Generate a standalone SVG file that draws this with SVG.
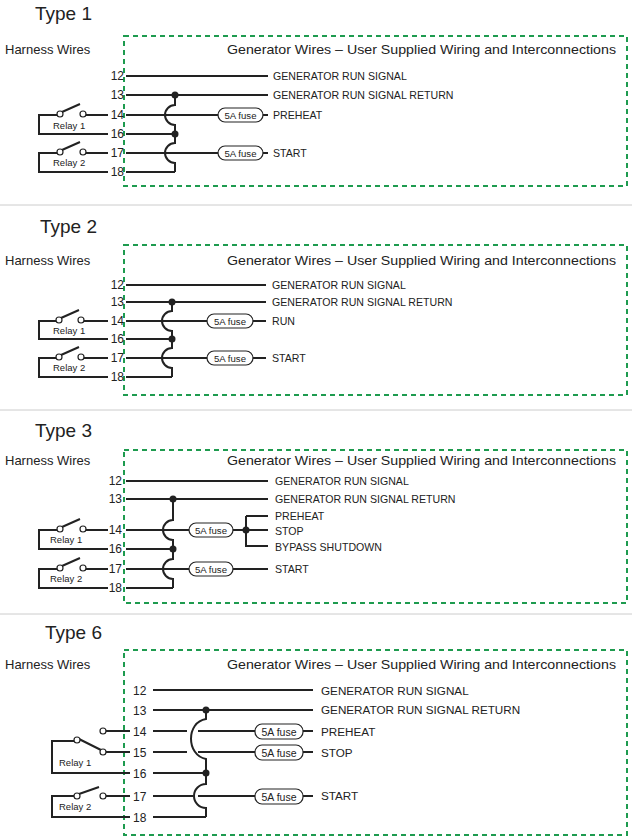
<svg xmlns="http://www.w3.org/2000/svg" width="632" height="840" viewBox="0 0 632 840">
<style>
text{font-family:"Liberation Sans",Arial,sans-serif;fill:#222}
.t{font-size:19px}
.h{font-size:13px}
.n{font-size:12px}
.l{font-size:10.6px}
.f{font-size:9.6px}
.f6{font-size:10.5px}
.r{font-size:9.5px}
.w{stroke:#222;stroke-width:2;fill:none}
.box{stroke:#1e9b4f;stroke-width:2;stroke-dasharray:5,4;fill:none}
.sep{stroke:#ccc;stroke-width:1}
.fuse{fill:#fff;stroke:#222;stroke-width:1.2}
.c{fill:#fff;stroke:#222;stroke-width:1.2}
.d{fill:#222}
</style>
<g id="sections">
<line class="sep" x1="0" y1="205" x2="632" y2="205"/>
<line class="sep" x1="0" y1="410" x2="632" y2="410"/>
<line class="sep" x1="0" y1="614" x2="632" y2="614"/>
</g>
<g id="type1">
<text class="t" x="35" y="20">Type 1</text>
<text class="h" x="5" y="54">Harness Wires</text>
<rect class="box" x="124" y="36" width="503" height="150"/>
<text class="h" x="227" y="54" textLength="389" lengthAdjust="spacingAndGlyphs">Generator Wires – User Supplied Wiring and Interconnections</text>
<g class="n" text-anchor="end"><text x="124" y="80">12</text><text x="124" y="99">13</text><text x="124" y="119">14</text><text x="124" y="138">16</text><text x="124" y="157">17</text><text x="124" y="176">18</text></g>
<g class="w">
<line x1="126" y1="76" x2="268" y2="76"/><line x1="126" y1="95" x2="268" y2="95"/>
<line x1="126" y1="115" x2="219" y2="115"/><line x1="262" y1="115" x2="268" y2="115"/>
<line x1="126" y1="134" x2="175" y2="134"/>
<line x1="126" y1="153" x2="219" y2="153"/><line x1="262" y1="153" x2="268" y2="153"/>
<line x1="126" y1="172" x2="175" y2="172"/>
<path d="M175,95 V105 A10,10 0 0 0 175,125 V143 A10,10 0 0 0 175,163 V172"/>
<path d="M58,115 H39 V134 H108 M86,115 H108 M62,112 L80,104"/>
<path d="M58,153 H39 V172 H108 M86,153 H108 M62,150 L80,142"/>
</g>
<circle class="d" cx="175" cy="95" r="3.5"/><circle class="d" cx="175" cy="134" r="3.5"/>
<circle class="c" cx="60" cy="114" r="3"/><circle class="c" cx="83" cy="114" r="3"/>
<circle class="c" cx="60" cy="152" r="3"/><circle class="c" cx="83" cy="152" r="3"/>
<text class="r" x="53" y="129">Relay 1</text><text class="r" x="53" y="166">Relay 2</text>
<rect class="fuse" x="218" y="108" width="45" height="14" rx="7"/><text class="f" x="240.5" y="118.5" text-anchor="middle">5A fuse</text>
<rect class="fuse" x="218" y="146" width="45" height="14" rx="7"/><text class="f" x="240.5" y="156.5" text-anchor="middle">5A fuse</text>
<g class="l"><text x="273" y="80">GENERATOR RUN SIGNAL</text><text x="273" y="99">GENERATOR RUN SIGNAL RETURN</text><text x="273" y="119">PREHEAT</text><text x="273" y="157">START</text></g>
</g>
<g id="type2">
<text class="t" x="40" y="233">Type 2</text>
<text class="h" x="5" y="265">Harness Wires</text>
<rect class="box" x="124" y="245" width="503" height="150"/>
<text class="h" x="227" y="265" textLength="389" lengthAdjust="spacingAndGlyphs">Generator Wires – User Supplied Wiring and Interconnections</text>
<g class="n" text-anchor="end"><text x="124" y="289">12</text><text x="124" y="306">13</text><text x="124" y="325">14</text><text x="124" y="343">16</text><text x="124" y="362">17</text><text x="124" y="381">18</text></g>
<g class="w">
<line x1="126" y1="285" x2="266" y2="285"/><line x1="126" y1="302" x2="266" y2="302"/>
<line x1="126" y1="321" x2="208" y2="321"/><line x1="252" y1="321" x2="266" y2="321"/>
<line x1="126" y1="339" x2="172" y2="339"/>
<line x1="126" y1="358" x2="208" y2="358"/><line x1="252" y1="358" x2="266" y2="358"/>
<line x1="126" y1="377" x2="172" y2="377"/>
<path d="M172,302 V311 A10,10 0 0 0 172,331 V348 A10,10 0 0 0 172,368 V377"/>
<path d="M57,321 H39 V339 H108 M84,321 H108 M61,318 L79,310"/>
<path d="M57,358 H39 V377 H108 M84,358 H108 M61,355 L79,347"/>
</g>
<circle class="d" cx="172" cy="302" r="3.5"/><circle class="d" cx="172" cy="339" r="3.5"/>
<circle class="c" cx="59" cy="320" r="3"/><circle class="c" cx="81" cy="320" r="3"/>
<circle class="c" cx="59" cy="357" r="3"/><circle class="c" cx="81" cy="357" r="3"/>
<text class="r" x="53" y="334">Relay 1</text><text class="r" x="53" y="371">Relay 2</text>
<rect class="fuse" x="207" y="314" width="46" height="14" rx="7"/><text class="f" x="230" y="324.5" text-anchor="middle">5A fuse</text>
<rect class="fuse" x="207" y="351" width="46" height="14" rx="7"/><text class="f" x="230" y="361.5" text-anchor="middle">5A fuse</text>
<g class="l"><text x="272" y="289">GENERATOR RUN SIGNAL</text><text x="272" y="306">GENERATOR RUN SIGNAL RETURN</text><text x="272" y="325">RUN</text><text x="272" y="362">START</text></g>
</g>
<g id="type3">
<text class="t" x="35" y="437">Type 3</text>
<text class="h" x="5" y="465">Harness Wires</text>
<rect class="box" x="124" y="450" width="503" height="153"/>
<text class="h" x="227" y="465" textLength="389" lengthAdjust="spacingAndGlyphs">Generator Wires – User Supplied Wiring and Interconnections</text>
<g class="n" text-anchor="end"><text x="122" y="485">12</text><text x="122" y="503">13</text><text x="122" y="534">14</text><text x="122" y="553">16</text><text x="122" y="573">17</text><text x="122" y="592">18</text></g>
<g class="w">
<line x1="126" y1="481" x2="268" y2="481"/><line x1="126" y1="499" x2="268" y2="499"/>
<line x1="126" y1="530" x2="190" y2="530"/><line x1="232" y1="530" x2="268" y2="530"/>
<path d="M246,516 H268 M246,516 V546 H268"/>
<line x1="126" y1="549" x2="173" y2="549"/>
<line x1="126" y1="569" x2="190" y2="569"/><line x1="232" y1="569" x2="268" y2="569"/>
<line x1="126" y1="588" x2="173" y2="588"/>
<path d="M173,499 V520 A10,10 0 0 0 173,540 V559 A10,10 0 0 0 173,579 V588"/>
<path d="M58,530 H39 V549 H108 M86,530 H108 M62,527 L80,519"/>
<path d="M58,569 H39 V588 H108 M86,569 H108 M62,566 L80,558"/>
</g>
<circle class="d" cx="173" cy="499" r="3.5"/><circle class="d" cx="173" cy="549" r="3.5"/><circle class="d" cx="246" cy="530" r="3.5"/>
<circle class="c" cx="60" cy="529" r="3"/><circle class="c" cx="83" cy="529" r="3"/>
<circle class="c" cx="60" cy="568" r="3"/><circle class="c" cx="83" cy="568" r="3"/>
<text class="r" x="50" y="543">Relay 1</text><text class="r" x="50" y="582">Relay 2</text>
<rect class="fuse" x="189" y="523" width="44" height="14" rx="7"/><text class="f" x="211" y="533.5" text-anchor="middle">5A fuse</text>
<rect class="fuse" x="189" y="562" width="44" height="14" rx="7"/><text class="f" x="211" y="572.5" text-anchor="middle">5A fuse</text>
<g class="l"><text x="275" y="485">GENERATOR RUN SIGNAL</text><text x="275" y="503">GENERATOR RUN SIGNAL RETURN</text><text x="275" y="520">PREHEAT</text><text x="275" y="535">STOP</text><text x="275" y="551">BYPASS SHUTDOWN</text><text x="275" y="573">START</text></g>
</g>
<g id="type6">
<text class="t" x="45" y="639">Type 6</text>
<text class="h" x="5" y="669">Harness Wires</text>
<rect class="box" x="124" y="650" width="503" height="185"/>
<text class="h" x="227" y="669" textLength="389" lengthAdjust="spacingAndGlyphs">Generator Wires – User Supplied Wiring and Interconnections</text>
<g class="n"><text x="133" y="695">12</text><text x="133" y="715">13</text><text x="133" y="736">14</text><text x="133" y="757">15</text><text x="133" y="778">16</text><text x="133" y="801">17</text><text x="133" y="822">18</text></g>
<g class="w">
<line x1="153" y1="690" x2="313" y2="690"/><line x1="153" y1="710" x2="313" y2="710"/>
<line x1="153" y1="731" x2="187" y2="731"/><line x1="198" y1="731" x2="255" y2="731"/><line x1="303" y1="731" x2="313" y2="731"/>
<line x1="153" y1="752" x2="187" y2="752"/><line x1="198" y1="752" x2="255" y2="752"/><line x1="303" y1="752" x2="313" y2="752"/>
<line x1="153" y1="773" x2="206" y2="773"/>
<line x1="153" y1="796" x2="193" y2="796"/><line x1="198" y1="796" x2="255" y2="796"/><line x1="303" y1="796" x2="313" y2="796"/>
<line x1="153" y1="817" x2="206" y2="817"/>
<path d="M206,710 V719 C186,722 186,755 206,759 V784 A12,12 0 0 0 206,808 V817"/>
<path d="M106,731 H130 M106,752 H130 M74,741 H52 V773 H130 M79,739 L101,750"/>
<path d="M74,796 H52 V817 H130 M106,796 H130 M79,794 L99,787"/>
</g>
<circle class="d" cx="206" cy="710" r="3.5"/><circle class="d" cx="206" cy="773" r="3.5"/>
<circle class="c" cx="103" cy="731" r="3"/><circle class="c" cx="77" cy="740" r="3"/><circle class="c" cx="103" cy="752" r="3"/>
<circle class="c" cx="77" cy="796" r="3"/><circle class="c" cx="103" cy="796" r="3"/>
<text class="r" x="59" y="766">Relay 1</text><text class="r" x="59" y="810">Relay 2</text>
<rect class="fuse" x="255" y="724" width="48" height="15" rx="7"/><text class="f6" x="279" y="735.5" text-anchor="middle">5A fuse</text>
<rect class="fuse" x="255" y="745" width="48" height="15" rx="7"/><text class="f6" x="279" y="756.5" text-anchor="middle">5A fuse</text>
<rect class="fuse" x="255" y="789" width="48" height="15" rx="7"/><text class="f6" x="279" y="800.5" text-anchor="middle">5A fuse</text>
<g class="l" style="font-size:11.7px"><text x="321" y="695">GENERATOR RUN SIGNAL</text><text x="321" y="714">GENERATOR RUN SIGNAL RETURN</text><text x="321" y="736">PREHEAT</text><text x="321" y="757">STOP</text><text x="321" y="800">START</text></g>
</g>
</svg>
